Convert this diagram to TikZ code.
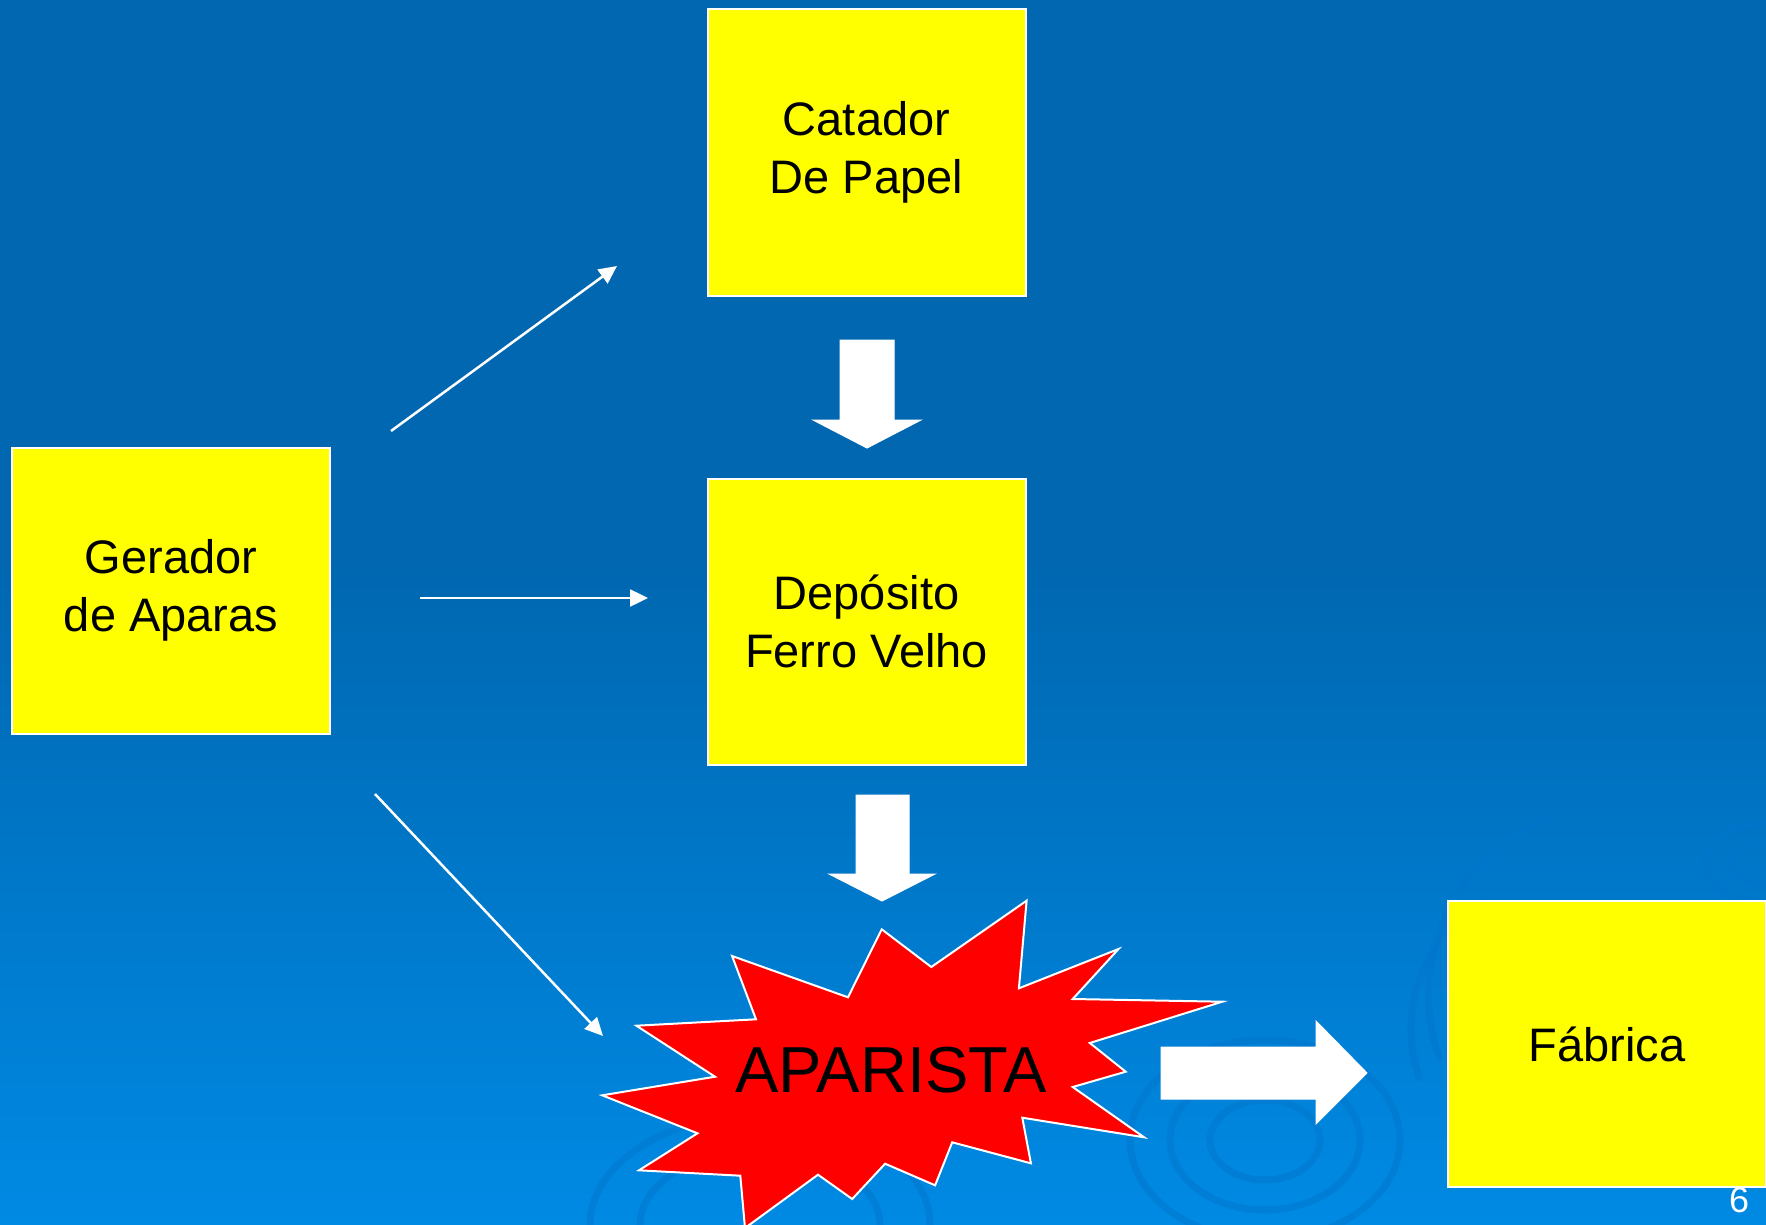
\documentclass[tikz,border=0pt]{standalone}
\usepackage{fontspec}
\setmainfont{Liberation Sans}
\usetikzlibrary{arrows.meta}
\definecolor{bgtop}{RGB}{0,103,176}
\definecolor{bgbot}{RGB}{0,138,228}
\definecolor{boxyellow}{RGB}{255,255,0}
\definecolor{starred}{RGB}{255,0,0}
\definecolor{swirlc}{RGB}{0,118,205}
\begin{document}
\begin{tikzpicture}[x=1pt,y=-1pt,
  box/.style={draw=white,line width=2pt,fill=boxyellow,minimum width=318pt,minimum height=286pt,
    inner sep=0pt,align=center,font=\fontsize{47}{58}\selectfont,text=black},
  thinarrow/.style={draw=white,line width=2.5pt,-{Triangle[length=18pt,width=17pt]}},
  blockarrow/.style={fill=white,draw=white,line width=1pt,line join=miter},
  swirl/.style={draw=swirlc,line width=7pt,opacity=0.5}]
\useasboundingbox (0,0) rectangle (1766,1225);
% background
\fill[bgtop] (0,0) rectangle (1766,1225);
\shade[top color=bgtop,bottom color=bgbot] (0,560) rectangle (1766,1225);
% faint swirls
\begin{scope}
\clip (0,0) rectangle (1766,1225);
\draw[swirl] (1265,1140) ellipse (95pt and 70pt);
\draw[swirl] (1265,1140) ellipse (55pt and 40pt);
\draw[swirl] (1265,1140) ellipse (135pt and 100pt);
\draw[swirl] (1440,1060) arc (200:110:190pt);
\draw[swirl] (1420,1080) arc (200:120:150pt);
\draw[swirl] (760,1225) ellipse (170pt and 110pt);
\draw[swirl] (760,1225) ellipse (120pt and 75pt);
\draw[swirl] (1766,862) ellipse (60pt and 40pt);
\draw[swirl] (1766,862) ellipse (35pt and 22pt);
\end{scope}
% page number
\node[anchor=base,text=white,font=\fontsize{36}{40}\selectfont,inner sep=0pt] (pnum) at (1739,1212) {6};
% boxes
\node[box] (cat) at (866.5,152.5) {Catador\\De Papel};
\node[box] (ger) at (171,590.5) {Gerador\\de Aparas};
\node[box] (dep) at (866.5,621.5) {Depósito\\Ferro Velho};
\node[box] (fab) at (1607,1044) {Fábrica};
% starburst
\draw[fill=starred,draw=white,line width=2pt,line join=miter]
 (1026.6,900.7) -- (1018.9,988.3) -- (1118.5,949) -- (1072.7,999) -- (1222.3,1001.7)
 -- (1089.8,1043) -- (1125.7,1071.7) -- (1072.7,1087) -- (1144.1,1137.3) -- (1022.3,1117.7)
 -- (1030.9,1163.3) -- (952.2,1142.3) -- (935.1,1185.3) -- (885.1,1163.7) -- (852.2,1199)
 -- (818,1174.7) -- (745,1228) -- (740.3,1175.7) -- (639,1170.3) -- (697.5,1133.3)
 -- (602.2,1095.3) -- (715,1076.7) -- (636.4,1025.7) -- (756,1019.3) -- (732.1,956)
 -- (848,997.3) -- (881.7,929.3) -- (931.3,967) -- cycle;
\node[inner sep=0pt,font=\fontsize{65}{70}\selectfont,text=black] (apar) at (891,1070) {APARISTA};
% thin arrows
\coordinate (s1) at (391,431); \coordinate (e1) at (617,266);
\coordinate (s2) at (420,598); \coordinate (e2) at (648,598);
\coordinate (s3) at (375,794); \coordinate (e3) at (603,1036);
\draw[thinarrow] (s1) -- (e1);
\draw[thinarrow] (s2) -- (e2);
\draw[thinarrow] (s3) -- (e3);
% block arrows
\draw[blockarrow] (840,340) -- (894,340) -- (894,420) -- (921,420) -- (867,448) -- (813,420) -- (840,420) -- cycle;
\draw[blockarrow] (856,795) -- (909,795) -- (909,874) -- (935,874) -- (882,901) -- (829,874) -- (856,874) -- cycle;
\draw[blockarrow] (1161,1047) -- (1316,1047) -- (1316,1021) -- (1367,1073) -- (1316,1124) -- (1316,1099) -- (1161,1099) -- cycle;
\end{tikzpicture}
\end{document}
